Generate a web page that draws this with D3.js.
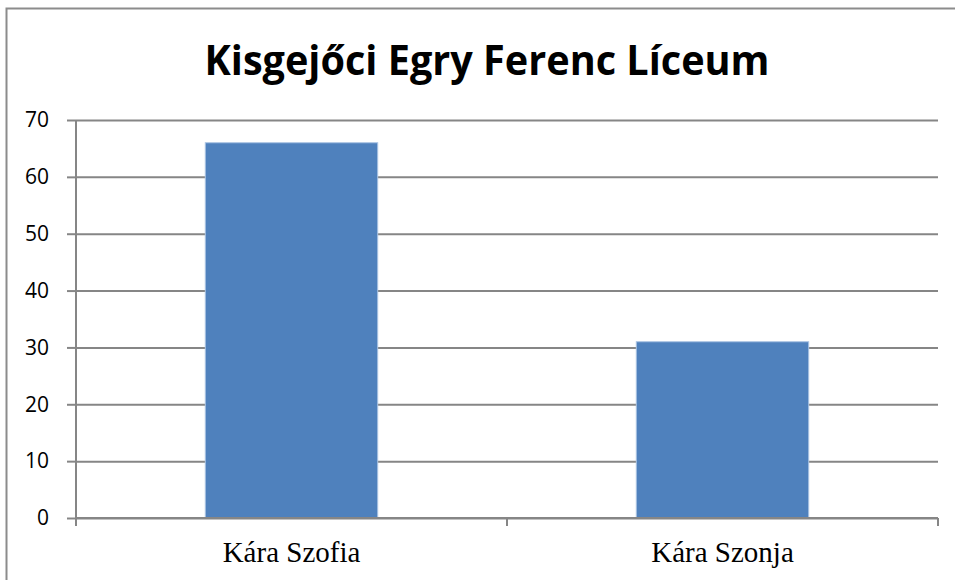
<!DOCTYPE html>
<html>
<head>
<meta charset="utf-8">
<script src="https://cdn.jsdelivr.net/npm/d3@7"></script>
<style>
  body { margin: 0; background: #fff; }
  svg { display: block; }
</style>
</head>
<body>
<script>
// Chart data
var names = ['Kára Szofia', 'Kára Szonja'],
    values = [66, 31],
    yTicks = [0, 10, 20, 30, 40, 50, 60, 70];

var title = 'Kisgejőci Egry Ferenc Líceum';

var width = 955, height = 580;
var margin = {top: 120, right: 17, bottom: 62, left: 76};
var plotW = width - margin.left - margin.right,
    plotH = height - margin.top - margin.bottom;

var svg = d3.select('body').append('svg')
    .attr('width', width)
    .attr('height', height);

// Outer chart border (runs off the right and bottom edge)
svg.append('rect')
    .attr('x', 6.5).attr('y', 8.5)
    .attr('width', 1000).attr('height', 1000)
    .attr('fill', 'none')
    .attr('stroke', '#8c8c8c')
    .attr('stroke-width', 2);

// Title
svg.append('text')
    .attr('x', 487).attr('y', 75)
    .attr('text-anchor', 'middle')
    .attr('font-family', 'Open Sans, sans-serif')
    .attr('font-weight', 'bold')
    .attr('font-size', 42)
    .attr('textLength', 565)
    .attr('lengthAdjust', 'spacingAndGlyphs')
    .text(title);

var wrap = svg.append('g')
    .attr('transform', 'translate(' + margin.left + ',' + margin.top + ')');

var x = d3.scaleBand().domain(names).range([0, plotW]).paddingInner(0.6).paddingOuter(0.3);
var y = d3.scaleLinear().domain([0, 70]).range([plotH, 0]);

// Gridlines + y axis
var yAxis = d3.axisLeft(y).tickValues(yTicks).tickSizeInner(-plotW).tickSizeOuter(0).tickPadding(27);
var gy = wrap.append('g').call(yAxis);
gy.select('.domain').remove();
gy.selectAll('.tick line').attr('stroke', '#868686').attr('stroke-width', 2);
gy.selectAll('.tick text')
    .attr('font-family', 'Open Sans, sans-serif')
    .attr('font-size', 21)
    .attr('fill', '#000');
// small outward ticks
gy.selectAll('.tick').append('line')
    .attr('x1', -9).attr('x2', 0)
    .attr('stroke', '#868686').attr('stroke-width', 2);

// Bars
wrap.selectAll('.bar')
    .data(values)
    .enter()
    .append('rect')
    .attr('class', 'bar')
    .attr('x', function(d, i) { return x(names[i]); })
    .attr('width', x.bandwidth())
    .attr('y', function(d) { return y(d); })
    .attr('height', function(d) { return plotH - y(d); })
    .attr('fill', '#4f81bd')
    .attr('stroke', '#a9c3e3')
    .attr('stroke-width', 1);

// Left axis line
wrap.append('line')
    .attr('x1', 0).attr('x2', 0)
    .attr('y1', 0).attr('y2', plotH + 8)
    .attr('stroke', '#868686').attr('stroke-width', 2);

// x axis: baseline, ticks at band edges, labels
wrap.append('line')
    .attr('x1', 0).attr('x2', plotW)
    .attr('y1', plotH).attr('y2', plotH)
    .attr('stroke', '#868686').attr('stroke-width', 2);

var edges = [0, plotW / 2, plotW];
wrap.selectAll('.xtick')
    .data(edges)
    .enter()
    .append('line')
    .attr('x1', function(d) { return d; })
    .attr('x2', function(d) { return d; })
    .attr('y1', plotH).attr('y2', plotH + 8)
    .attr('stroke', '#868686').attr('stroke-width', 2);

wrap.selectAll('.xlabel')
    .data(names)
    .enter()
    .append('text')
    .attr('x', function(d) { return x(d) + x.bandwidth() / 2; })
    .attr('y', plotH + 44)
    .attr('text-anchor', 'middle')
    .attr('font-family', 'Liberation Serif, serif')
    .attr('font-size', 29)
    .text(function(d) { return d; });
</script>
</body>
</html>
